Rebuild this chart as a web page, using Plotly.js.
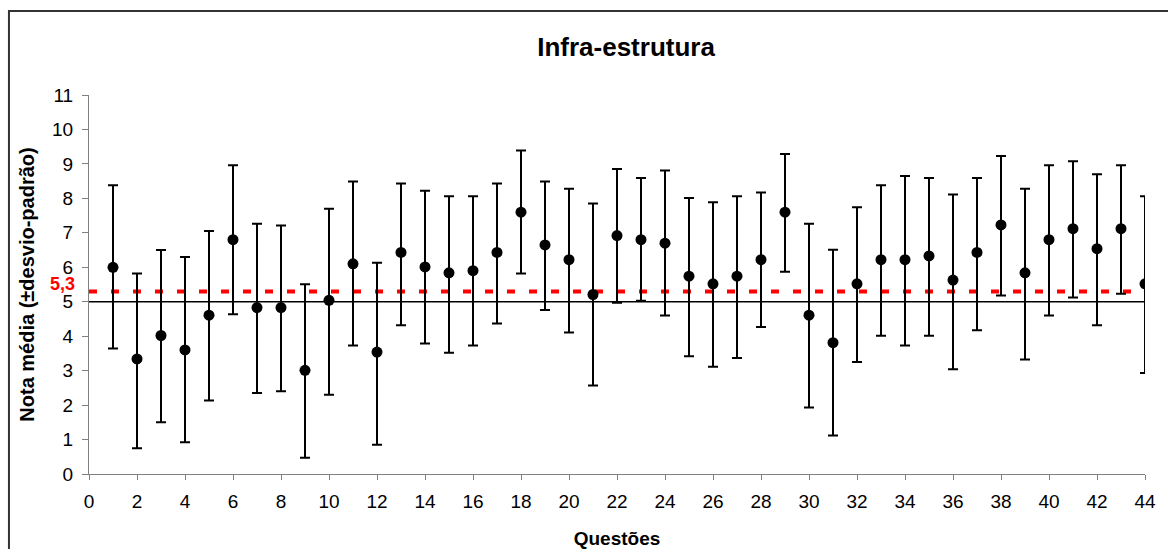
<!DOCTYPE html>
<html>
<head>
<meta charset="utf-8">
<script src="https://cdn.plot.ly/plotly-3.0.1.min.js"></script>
<style>
html, body { margin: 0; padding: 0; background: #ffffff; }
#chart { width: 1168px; height: 549px; }
</style>
</head>
<body>
<div id="chart"></div>
<script>
// Data
const questoes = [1,2,3,4,5,6,7,8,9,10,11,12,13,14,15,16,17,18,19,20,21,22,23,24,25,26,27,28,29,30,31,32,33,34,35,36,37,38,39,40,41,42,43,44];
const notaMedia = [6.00,3.34,4.02,3.60,4.61,6.80,4.83,4.83,3.01,5.04,6.10,3.54,6.43,6.01,5.84,5.90,6.43,7.60,6.65,6.22,
                   5.21,6.92,6.80,6.70,5.74,5.52,5.74,6.22,7.60,4.61,3.81,5.52,6.22,6.22,6.33,5.63,6.43,7.23,5.84,6.80,
                   7.12,6.54,7.12,5.52];
const limiteSuperior = [8.38,5.82,6.50,6.30,7.05,8.96,7.26,7.21,5.51,7.70,8.49,6.13,8.43,8.22,8.06,8.06,8.43,9.39,8.49,8.28,
                        7.85,8.85,8.59,8.81,8.01,7.89,8.06,8.17,9.29,7.26,6.51,7.74,8.38,8.65,8.59,8.11,8.59,9.23,8.28,8.96,
                        9.08,8.70,8.96,8.06];
const limiteInferior = [3.64,0.75,1.50,0.92,2.13,4.64,2.35,2.40,0.47,2.30,3.73,0.85,4.32,3.79,3.52,3.73,4.37,5.82,4.76,4.11,
                        2.57,4.97,5.03,4.60,3.42,3.11,3.37,4.27,5.87,1.93,1.12,3.25,4.01,3.73,4.01,3.04,4.17,5.18,3.32,4.60,
                        5.12,4.32,5.23,2.93];
const linhaReferencia = 5;
const mediaGeral = 5.3;
const mediaGeralTexto = "5,3";
const xTicks = [0,2,4,6,8,10,12,14,16,18,20,22,24,26,28,30,32,34,36,38,40,42,44];
const yTicks = [0,1,2,3,4,5,6,7,8,9,10,11];

const errPlus = limiteSuperior.map((v, i) => v - notaMedia[i]);
const errMinus = limiteInferior.map((v, i) => notaMedia[i] - v);

const FONT = "Liberation Sans, Arial, sans-serif";

const trace = {
  type: "scatter",
  mode: "markers",
  x: questoes,
  y: notaMedia,
  marker: { color: "#000000", size: 11 },
  error_y: {
    type: "data",
    symmetric: false,
    array: errPlus,
    arrayminus: errMinus,
    color: "#000000",
    thickness: 2,
    width: 5
  },
  showlegend: false,
  hoverinfo: "x+y"
};

const xL = -0.0758, yT = 1.2216;

const layout = {
  width: 1168,
  height: 549,
  paper_bgcolor: "#ffffff",
  plot_bgcolor: "#ffffff",
  margin: { l: 89, r: 23, t: 95, b: 75, pad: 0 },
  font: { family: FONT, color: "#000000", size: 19 },
  title: {
    text: "<b>Infra-estrutura</b>",
    font: { family: FONT, size: 26, color: "#000000" },
    x: 594 / 1168,
    xanchor: "center",
    xref: "paper",
    yref: "container",
    y: 1 - 47 / 549,
    yanchor: "middle"
  },
  xaxis: {
    range: [0, 44],
    tickvals: xTicks,
    ticktext: xTicks.map(String),
    ticks: "outside",
    ticklen: 5,
    tickcolor: "#808080",
    ticklabelstandoff: 5,
    showline: true,
    linecolor: "#808080",
    linewidth: 1,
    showgrid: false,
    zeroline: false,
    tickfont: { family: FONT, size: 19, color: "#000000" },
    title: {
      text: "<b>Questões</b>",
      font: { family: FONT, size: 19, color: "#000000" },
      standoff: 22
    }
  },
  yaxis: {
    range: [0, 11],
    tickvals: yTicks,
    ticktext: yTicks.map(String),
    ticks: "outside",
    ticklen: 6,
    tickcolor: "#808080",
    ticklabelstandoff: 5,
    showline: true,
    linecolor: "#808080",
    linewidth: 1,
    showgrid: false,
    zeroline: false,
    tickfont: { family: FONT, size: 19, color: "#000000" },
    title: {
      text: "<b>Nota média (±desvio-padrão)</b>",
      font: { family: FONT, size: 20, color: "#000000" },
      standoff: 12
    }
  },
  shapes: [
    {
      type: "path",
      xref: "paper", yref: "paper",
      path: `M ${xL},-0.4 L ${xL},${yT} L 1.1,${yT}`,
      line: { color: "#333333", width: 2 },
      layer: "below"
    },
    {
      type: "line",
      xref: "x", yref: "y",
      x0: 0, x1: 44, y0: linhaReferencia, y1: linhaReferencia,
      line: { color: "#000000", width: 1.5 },
      layer: "below"
    },
    {
      type: "line",
      xref: "x", yref: "y",
      x0: 0, x1: 44, y0: mediaGeral, y1: mediaGeral,
      line: { color: "#ff0000", width: 4, dash: "8px,14px" },
      layer: "below"
    }
  ],
  annotations: [
    {
      xref: "paper", yref: "y",
      x: -0.0255, y: mediaGeral,
      xanchor: "center", yanchor: "bottom",
      yshift: -5,
      text: "<b>" + mediaGeralTexto + "</b>",
      showarrow: false,
      font: { family: FONT, size: 18, color: "#ff0000" }
    }
  ]
};

Plotly.newPlot("chart", [trace], layout, { displayModeBar: false, staticPlot: true });
</script>
</body>
</html>
